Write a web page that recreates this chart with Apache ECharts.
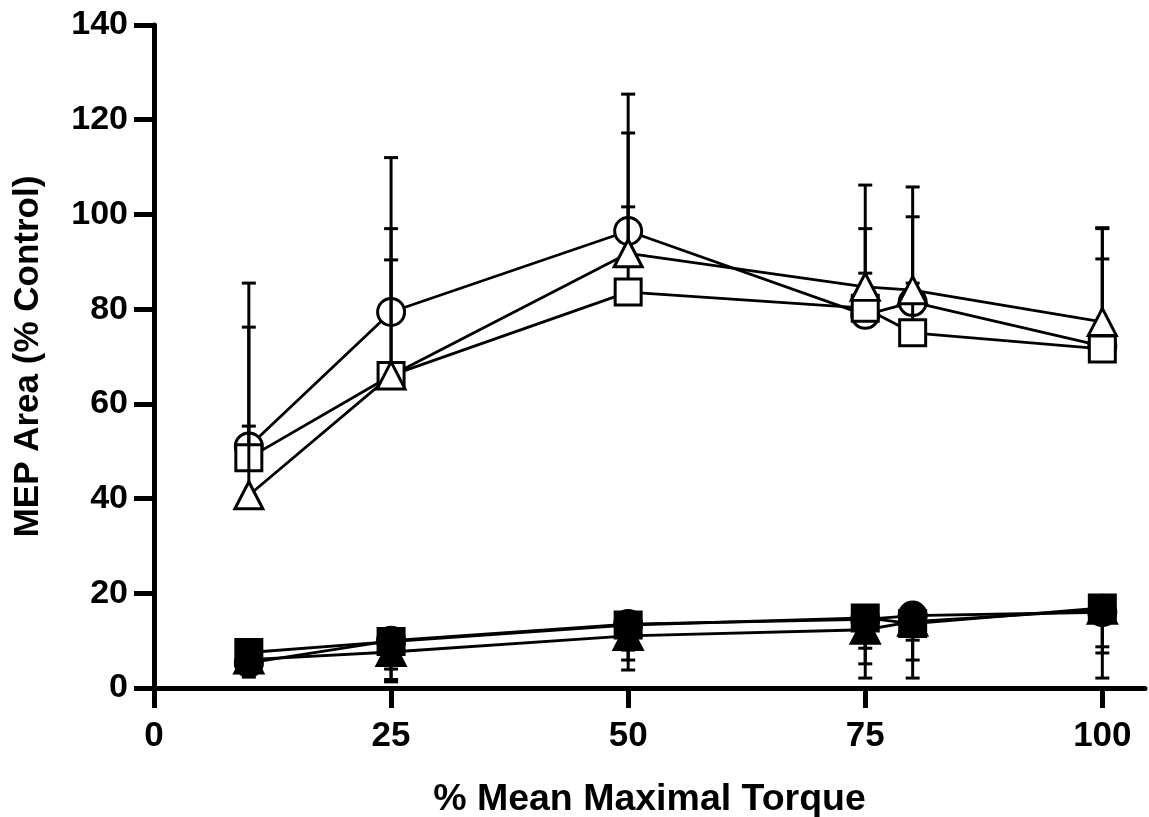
<!DOCTYPE html>
<html><head><meta charset="utf-8">
<script src="https://cdn.jsdelivr.net/npm/echarts@6/dist/echarts.min.js"></script>
<style>html,body{margin:0;padding:0;background:#fff}#c{width:1149px;height:817px}</style>
</head><body><div id="c"></div>
<script>
// % Mean Maximal Torque
const torque = [10, 25, 50, 75, 80, 100];
const xTicks = [0, 25, 50, 75, 100];
const yTicks = [0, 20, 40, 60, 80, 100, 120, 140];

// open symbols (upper error bars)
const openCircle      = [51.0, 79.4, 96.5, 78.8, 81.5, 72.2];
const openCircleUp    = [55.3, 90.4, 101.6, 87.6, 85.5, 90.6];
const openSquare      = [48.6, 66.0, 83.6, 80.2, 75.0, 71.6];
const openSquareUp    = [76.2, 97.0, 117.2, 97.0, 99.5, 97.0];
const openTriangle    = [40.7, 66.0, 91.8, 84.7, 84.0, 77.3];
const openTriangleUp  = [85.5, 112.0, 125.4, 106.2, 105.8, 97.2];

// filled symbols (lower error bars)
const fillCircle      = [5.3, 10.0, 13.5, 14.5, 15.3, 16.0];
const fillCircleLo    = [2.3, 4.0, 5.9, 5.1, 2.1, 2.1];
const fillSquare      = [7.5, 9.8, 13.3, 14.8, 13.6, 16.9];
const fillSquareLo    = [4.5, 1.8, 8.0, 8.4, 5.9, 8.7];
const fillTriangle    = [6.0, 7.6, 11.0, 12.3, 14.0, 16.5];
const fillTriangleLo  = [3.5, 1.3, 3.8, 2.1, 10.1, 7.4];

const groups = [
  {name:'Open circle',    symbol:'circle',   fill:'#fff', vals:openCircle,   bar:openCircleUp},
  {name:'Open square',    symbol:'rect',     fill:'#fff', vals:openSquare,   bar:openSquareUp},
  {name:'Open triangle',  symbol:'triangle', fill:'#fff', vals:openTriangle, bar:openTriangleUp},
  {name:'Filled circle',  symbol:'circle',   fill:'#000', vals:fillCircle,   bar:fillCircleLo},
  {name:'Filled square',  symbol:'rect',     fill:'#000', vals:fillSquare,   bar:fillSquareLo},
  {name:'Filled triangle',symbol:'triangle', fill:'#000', vals:fillTriangle, bar:fillTriangleLo}
];

const FONT = 'Liberation Sans, Arial, sans-serif';

function errRender(params, api) {
  const x = api.value(0), m = api.value(1), b = api.value(2);
  const p0 = api.coord([x, m]), p1 = api.coord([x, b]);
  const cw = 14, lw = 3;
  return {type:'group', children:[
    {type:'line', shape:{x1:p0[0], y1:p0[1], x2:p1[0], y2:p1[1]}, style:{stroke:'#000', lineWidth:lw}},
    {type:'line', shape:{x1:p1[0]-cw/2, y1:p1[1], x2:p1[0]+cw/2, y2:p1[1]}, style:{stroke:'#000', lineWidth:lw}}
  ]};
}

const series = [];
groups.forEach((g, i) => {
  series.push({
    name: g.name, type:'line', z: 2, silent:true, animation:false,
    symbol:'none', data: torque.map((x, k) => [x, g.vals[k]]),
    lineStyle:{color:'#000', width:2.8}
  });
});
groups.forEach((g, i) => {
  series.push({
    name: g.name + ' err', type:'custom', z: 3 + 2*i, silent:true, animation:false, clip:false,
    renderItem: errRender, encode:{x:0, y:[1,2]},
    data: torque.map((x, k) => [x, g.vals[k], g.bar[k]])
  });
  series.push({
    name: g.name + ' mk', type:'scatter', z: 4 + 2*i, silent:true, animation:false,
    symbol: g.symbol, symbolSize: g.symbol === 'triangle' ? [28, 27] : (g.symbol === 'rect' ? 26 : 27),
    itemStyle:{color:g.fill, borderColor:'#000', borderWidth:3, opacity:1},
    data: torque.map((x, k) => [x, g.vals[k]])
  });
});

const chart = echarts.init(document.getElementById('c'), null, {renderer:'canvas'});
chart.setOption({
  backgroundColor:'#fff',
  animation:false,
  grid:{left:154, right:4, top:25, bottom:129, containLabel:false, outerBoundsMode:'none'},
  xAxis:{
    type:'value', min:0, max:104.5, interval:25,
    name:'% Mean Maximal Torque', nameLocation:'middle', nameGap:93, nameMoveOverlap:false,
    nameTextStyle:{fontFamily:FONT, fontWeight:'bold', fontSize:37.5, color:'#000'},
    axisLine:{show:true, onZero:false, lineStyle:{color:'#000', width:5}},
    axisTick:{show:true, inside:false, length:20, lineStyle:{color:'#000', width:5}, customValues:xTicks},
    axisLabel:{show:true, margin:31, fontFamily:FONT, fontWeight:'bold', fontSize:35, color:'#000', customValues:xTicks},
    splitLine:{show:false}
  },
  yAxis:{
    type:'value', min:0, max:140, interval:20,
    name:'MEP Area (% Control)', nameLocation:'middle', nameGap:108, nameRotate:90, nameMoveOverlap:false,
    nameTextStyle:{fontFamily:FONT, fontWeight:'bold', fontSize:35, color:'#000'},
    axisLine:{show:true, onZero:false, lineStyle:{color:'#000', width:5}},
    axisTick:{show:true, inside:false, length:20, lineStyle:{color:'#000', width:5}, customValues:yTicks},
    axisLabel:{show:true, margin:26, fontFamily:FONT, fontWeight:'bold', fontSize:34, color:'#000', customValues:yTicks},
    splitLine:{show:false}
  },
  series: series
});
</script>
</body></html>
